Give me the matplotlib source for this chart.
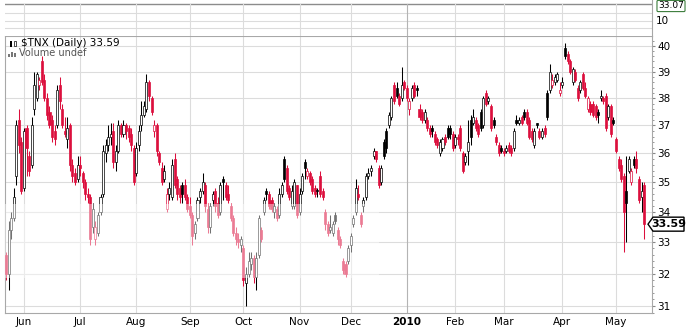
import numpy as np
import pandas as pd
import matplotlib
matplotlib.use("Agg")
import matplotlib.pyplot as plt
import matplotlib.ticker as mticker
from matplotlib.patches import Rectangle, Polygon

# trading days shown on the chart
holidays = ["2009-05-25", "2009-07-03", "2009-09-07", "2009-11-26", "2009-12-25",
            "2010-01-01", "2010-01-18", "2010-02-15", "2010-04-02"]
days = pd.bdate_range("2009-05-20", "2010-05-18")
days = days[~days.isin(pd.to_datetime(holidays))]

# $TNX daily OHLC (one line per month)
opens = [
    32.6, 32.0, 33.4, 33.8, 35.2, 37.2, 36.4,
    34.8, 36.9, 35.9, 35.6, 37.6, 38.0, 38.5, 39.4, 38.7, 38.0, 37.5, 37.2, 36.8, 37.0, 38.5, 37.6, 36.8, 36.5, 37.0, 35.6, 35.3, 35.1,
    35.6, 35.3, 35.0, 34.6, 34.5, 33.5, 33.1, 33.3, 34.0, 34.6, 36.0, 36.3, 36.6, 36.8, 35.7, 36.1, 37.0, 36.7, 37.0, 36.9, 36.7, 36.2,
    35.3, 36.3, 37.0, 37.4, 37.6, 38.6, 38.0, 36.8, 37.0, 36.0, 35.5, 35.1, 34.1, 34.6, 34.5, 35.8, 35.1, 34.8, 34.9, 34.9, 34.5,
    34.2, 33.9, 33.3, 33.8, 34.5, 34.7, 34.9, 34.1, 33.5, 34.4, 34.7, 34.3, 34.0, 35.1, 34.9, 34.6, 34.2, 33.8, 33.3, 33.1, 32.9,
    32.8, 31.7, 32.0, 32.3, 32.5, 31.9, 32.6, 33.4, 34.0, 34.7, 34.6, 34.4, 34.0, 34.1, 33.9, 34.6, 35.8, 35.5, 34.8, 34.2, 34.2, 34.9,
    34.0, 34.7, 35.7, 35.2, 35.3, 35.1, 34.8, 34.7, 35.2, 34.7, 34.0, 33.6, 33.4, 33.3, 33.9, 33.4, 33.1, 32.4, 32.3, 32.4,
    32.9, 33.6, 34.0, 34.6, 33.9, 34.2, 34.5, 35.2, 35.4, 35.9, 36.1, 35.5, 35.0, 36.4, 36.8, 37.0, 37.3, 38.5, 38.4, 38.1, 38.0, 38.6,
    38.4, 37.6, 38.0, 38.5, 38.4, 37.6, 37.5, 37.2, 37.2, 36.9, 36.9, 36.7, 36.5, 36.0, 36.2, 36.6, 36.9, 36.9, 36.7,
    36.3, 36.6, 36.9, 36.0, 35.7, 36.1, 37.2, 37.1, 37.2, 37.0, 37.5, 37.0, 38.2, 37.9, 37.7, 37.2, 36.6, 36.3, 36.2,
    36.1, 36.1, 36.3, 36.2, 36.2, 37.2, 37.1, 37.3, 37.5, 37.5, 37.2, 36.8, 36.3, 37.1, 36.8, 36.6, 36.9, 38.2, 38.3, 38.5, 38.6, 38.7, 38.2,
    38.5, 39.9, 39.7, 39.4, 38.6, 39.0, 38.4, 38.3, 38.9, 38.4, 37.6, 37.8, 37.8, 37.7, 37.5, 38.0, 38.0, 38.1, 37.3, 37.7, 37.2,
    36.5, 35.8, 35.6, 35.2, 34.7, 35.4, 35.0, 35.8, 35.8, 35.1, 34.5, 34.9,
]
highs = [
    32.7, 33.7, 34.0, 34.8, 37.2, 37.6, 36.6,
    36.9, 37.0, 36.1, 37.3, 39.0, 39.0, 38.8, 39.6, 38.9, 38.2, 37.7, 37.4, 37.0, 38.5, 38.8, 37.8, 37.3, 37.3, 37.1, 35.8, 35.5, 35.9,
    35.9, 35.4, 35.1, 34.8, 34.6, 34.3, 33.7, 34.0, 34.6, 36.3, 36.5, 37.0, 37.1, 37.1, 36.3, 37.2, 37.1, 37.2, 37.1, 37.0, 36.9, 36.3,
    36.4, 37.0, 37.9, 37.9, 38.9, 38.7, 38.1, 37.2, 37.1, 36.1, 35.7, 35.6, 34.8, 35.0, 35.8, 36.0, 35.2, 34.9, 35.0, 35.1, 34.6,
    34.5, 34.0, 33.7, 34.5, 34.8, 35.3, 35.0, 34.3, 34.3, 34.7, 34.8, 34.5, 35.0, 35.2, 35.0, 34.9, 34.3, 33.9, 33.5, 33.3, 33.2,
    32.9, 32.2, 32.7, 32.7, 32.6, 32.7, 33.9, 33.5, 34.5, 34.8, 34.7, 34.5, 34.3, 34.2, 34.8, 35.0, 35.9, 35.6, 34.9, 34.9, 35.1, 34.9,
    34.8, 35.3, 35.8, 35.5, 35.4, 35.2, 34.9, 34.8, 35.4, 34.8, 34.1, 33.7, 33.9, 33.7, 34.0, 33.5, 33.2, 32.5, 32.4, 32.9,
    33.3, 33.9, 35.1, 34.9, 34.0, 34.5, 35.3, 35.5, 35.6, 36.2, 36.1, 35.6, 35.6, 36.5, 36.9, 37.5, 38.1, 38.6, 38.6, 38.2, 39.2, 38.7,
    38.5, 38.0, 38.5, 38.6, 38.5, 37.8, 37.6, 37.6, 37.3, 37.0, 37.0, 36.8, 36.6, 36.5, 36.6, 36.7, 37.0, 37.0, 36.8,
    36.7, 36.7, 37.0, 36.1, 36.0, 37.2, 37.4, 37.6, 37.3, 37.1, 37.6, 38.1, 38.3, 38.1, 37.8, 37.3, 36.7, 36.4, 36.3,
    36.2, 36.3, 36.4, 36.3, 36.9, 37.4, 37.3, 37.4, 37.6, 37.6, 37.3, 36.9, 36.9, 37.1, 36.9, 36.9, 37.0, 38.3, 39.3, 38.9, 38.9, 39.0, 38.6,
    38.8, 40.1, 39.8, 39.5, 39.2, 39.1, 38.5, 38.7, 39.0, 38.6, 38.1, 37.9, 37.9, 37.8, 37.6, 38.3, 38.1, 38.2, 37.8, 37.8, 37.3,
    36.6, 35.9, 35.8, 35.3, 35.9, 35.9, 35.5, 35.9, 36.1, 35.2, 35.0, 35.0,
]
lows = [
    31.8, 31.5, 33.1, 33.7, 34.9, 36.0, 34.6,
    34.7, 35.2, 35.2, 35.5, 37.4, 37.9, 38.3, 38.5, 37.9, 37.2, 36.9, 36.4, 36.3, 36.9, 37.6, 36.9, 36.6, 36.2, 35.4, 35.0, 34.9, 35.0,
    35.2, 34.8, 34.4, 34.3, 32.9, 33.3, 32.9, 33.2, 33.9, 34.5, 35.7, 36.1, 36.3, 35.5, 35.4, 36.0, 36.6, 36.6, 36.5, 36.4, 36.1, 34.9,
    35.2, 36.1, 36.8, 37.3, 37.5, 37.9, 37.4, 36.6, 35.9, 35.6, 34.9, 35.0, 34.0, 34.4, 34.4, 34.8, 34.4, 34.3, 34.3, 34.4, 34.0,
    33.8, 32.9, 33.1, 33.7, 34.3, 34.6, 34.0, 33.3, 33.3, 34.2, 34.0, 33.8, 33.9, 34.4, 34.4, 34.3, 33.7, 33.2, 32.9, 32.8, 32.7,
    31.6, 31.0, 31.9, 32.1, 31.7, 31.5, 32.5, 33.0, 33.9, 34.4, 34.1, 34.0, 33.8, 33.7, 33.8, 34.5, 35.0, 34.6, 34.4, 34.1, 34.1, 33.8,
    33.9, 34.6, 35.1, 35.1, 34.9, 34.6, 34.5, 34.5, 34.5, 34.4, 33.4, 33.2, 33.3, 33.2, 33.6, 32.9, 32.8, 32.0, 31.9, 32.3,
    32.7, 33.5, 33.9, 34.4, 33.5, 34.0, 34.4, 35.1, 35.2, 35.8, 35.7, 34.8, 34.9, 35.8, 36.0, 36.9, 37.2, 37.8, 38.0, 37.7, 37.9, 38.3,
    37.9, 37.4, 37.9, 38.0, 38.1, 37.2, 37.1, 37.1, 36.8, 36.6, 36.6, 36.3, 36.2, 35.9, 36.1, 36.3, 36.5, 36.5, 36.1,
    36.2, 36.3, 36.1, 35.3, 35.6, 35.6, 36.3, 37.0, 36.8, 36.6, 36.8, 36.9, 37.7, 37.8, 36.8, 36.9, 36.3, 35.9, 36.0,
    35.9, 36.0, 36.0, 35.9, 36.1, 37.0, 37.0, 37.0, 37.2, 37.0, 36.5, 36.4, 36.2, 36.9, 36.5, 36.5, 36.6, 37.2, 38.2, 38.4, 38.5, 38.6, 38.1,
    38.4, 39.5, 39.3, 38.9, 38.5, 38.6, 37.9, 38.2, 38.3, 38.0, 37.5, 37.4, 37.3, 37.2, 37.1, 37.9, 37.8, 36.8, 37.2, 36.6, 37.0,
    36.0, 35.4, 35.0, 32.7, 33.0, 35.3, 34.9, 35.5, 35.3, 34.3, 34.0, 33.1,
]
closes = [
    32.0, 33.4, 33.8, 34.5, 37.0, 36.3, 34.7,
    36.8, 36.2, 35.4, 37.0, 38.5, 38.9, 38.7, 38.6, 38.0, 37.4, 37.0, 36.6, 36.5, 38.3, 37.9, 37.0, 36.7, 36.9, 35.6, 35.2, 35.0, 35.6,
    35.5, 35.0, 34.6, 34.5, 33.1, 34.1, 33.5, 33.9, 34.5, 36.1, 36.3, 36.6, 36.7, 35.7, 36.1, 37.0, 36.7, 37.0, 36.8, 36.6, 36.3, 35.0,
    36.2, 36.8, 37.4, 37.7, 38.6, 38.1, 37.5, 37.0, 36.1, 35.7, 35.0, 35.4, 34.6, 34.8, 35.6, 34.9, 34.6, 34.5, 34.6, 34.5, 34.1,
    33.9, 33.2, 33.6, 34.4, 34.7, 35.0, 34.2, 33.5, 34.2, 34.6, 34.2, 33.9, 34.9, 35.0, 34.5, 34.4, 33.8, 33.3, 33.1, 33.0, 33.1,
    31.8, 32.0, 32.4, 32.5, 31.9, 32.5, 33.8, 33.1, 34.4, 34.6, 34.2, 34.1, 34.2, 33.8, 34.6, 34.9, 35.1, 34.7, 34.5, 34.7, 35.0, 33.9,
    34.6, 35.2, 35.5, 35.4, 35.0, 34.7, 34.6, 34.7, 34.6, 34.5, 33.6, 33.3, 33.5, 33.6, 33.7, 33.1, 32.9, 32.1, 32.0, 32.8,
    33.2, 33.8, 34.8, 34.5, 33.6, 34.4, 35.2, 35.3, 35.5, 36.1, 35.8, 34.9, 35.5, 35.9, 36.2, 37.4, 38.0, 37.9, 38.1, 37.8, 38.5, 38.4,
    38.0, 37.9, 38.4, 38.1, 38.3, 37.3, 37.2, 37.5, 36.9, 36.7, 36.8, 36.4, 36.3, 36.4, 36.5, 36.4, 36.6, 36.7, 36.2,
    36.6, 36.5, 36.2, 35.4, 35.9, 36.4, 36.6, 37.3, 36.9, 36.7, 36.9, 38.0, 37.8, 38.0, 36.9, 37.0, 36.4, 36.0, 36.1,
    36.0, 36.2, 36.1, 36.0, 36.8, 37.1, 37.2, 37.1, 37.3, 37.1, 36.6, 36.5, 36.8, 37.0, 36.6, 36.8, 36.7, 37.3, 39.0, 38.7, 38.8, 38.9, 38.3,
    38.6, 39.6, 39.4, 39.0, 39.1, 38.7, 38.0, 38.6, 38.4, 38.1, 38.0, 37.5, 37.4, 37.3, 37.4, 38.1, 37.9, 36.9, 37.7, 36.7, 37.1,
    36.1, 35.5, 35.1, 34.0, 34.3, 35.8, 35.4, 35.6, 35.5, 34.4, 34.7, 33.59,
]
last_value = "33.59"
upper_label = "33.07"
price_ticks = list(range(31, 41))

assert len(opens) == len(highs) == len(lows) == len(closes) == len(days)

n = len(days)
x = np.arange(n)
o = np.array(opens)
h = np.array(highs)
l = np.array(lows)
c = np.array(closes)
prev = np.r_[o[0], c[:-1]]
red = "#dc0f3d"
colors = np.where(c >= prev, "black", red)
hollow = c > o

W, H = 689, 330
fig = plt.figure(figsize=(W / 100, H / 100), dpi=100)
ax = fig.add_axes([5 / W, 17 / H, 647 / W, 277 / H])
ax.set_yscale("log")
ax.set_xlim(-0.43, 253.1)
ax.set_ylim(30.79, 40.39)

grid_c = "#dcdcdc"
for v in price_ticks:
    ax.axhline(v, color=grid_c, lw=0.8, zorder=0)

month_idx = [i for i in range(1, n) if days[i].month != days[i - 1].month]
for i in month_idx:
    ax.axvline(i, color="#b4b4b4" if days[i].month == 1 else grid_c, lw=0.8, zorder=0)

# candles
ax.vlines(x, l, h, colors=colors, lw=0.75, zorder=2)
for i in range(n):
    lo, hi = min(o[i], c[i]), max(o[i], c[i])
    fc = "white" if hollow[i] else colors[i]
    ax.add_patch(Rectangle((i - 0.4, lo), 0.8, max(hi - lo, 0.02),
                           fc=fc, ec=colors[i], lw=0.5, zorder=3))

# faint white wash over the lower left of the price area
ax.add_patch(Rectangle((-1, 31.85), 147, 2.4, fc="white", ec="none", alpha=0.45, zorder=4))

for side in ["left", "top", "bottom", "right"]:
    ax.spines[side].set_color("#a8a8a8")
    ax.spines[side].set_linewidth(0.8)

ax.yaxis.tick_right()
ax.set_yticks(price_ticks)
ax.set_yticklabels([str(v) for v in price_ticks], fontsize=7.5)
ax.yaxis.set_minor_locator(mticker.FixedLocator(np.arange(30.8, 40.4, 0.2)))
ax.yaxis.set_minor_formatter(mticker.NullFormatter())
ax.tick_params(axis="y", which="major", length=2.5, pad=1.5, color="#888888")
ax.tick_params(axis="y", which="minor", length=1.5, color="#888888")

labels = ["2010" if days[i].month == 1 else days[i].strftime("%b") for i in month_idx]
ax.set_xticks(month_idx)
ax.set_xticklabels(labels, fontsize=7.5)
ax.tick_params(axis="x", length=0, pad=3)
for t in ax.get_xticklabels():
    if t.get_text() == "2010":
        t.set_fontweight("bold")

# legend text
fig.text(21 / W, 1 - 43.5 / H, r"\$TNX (Daily) 33.59", fontsize=7.5, va="center", color="black")
fig.text(19 / W, 1 - 53.5 / H, "Volume undef", fontsize=7, va="center", color="#555555")
for k, hh in enumerate([3, 5, 4]):
    fig.add_artist(Rectangle(((8 + 3 * k) / W, (H - 57) / H), 2 / W, hh / H,
                             transform=fig.transFigure, fc="#777777", ec="none"))
fig.add_artist(Rectangle((10 / W, (H - 47) / H), 2 / W, 6 / H, transform=fig.transFigure,
                         fc="black", ec="none"))
fig.add_artist(Rectangle((14 / W, (H - 46) / H), 2 / W, 5 / H, transform=fig.transFigure,
                         fc="white", ec="black", lw=0.5))

# last value tag
yc = ax.transData.transform((0, c[-1]))[1] / H
pts = [(648 / W, yc), (653 / W, yc + 7 / H), (684 / W, yc + 7 / H),
       (684 / W, yc - 7 / H), (653 / W, yc - 7 / H)]
fig.add_artist(Polygon(pts, closed=True, transform=fig.transFigure,
                       fc="white", ec="black", lw=1))
fig.text(668.5 / W, yc, last_value, ha="center", va="center", fontsize=8, fontweight="bold")

# cropped indicator panel above
top = fig.add_axes([5 / W, (H - 36) / H, 647 / W, 36 / H], sharex=ax)
top.set_ylim(36, 0)
top.axhline(4, color="#8c8c8c", lw=1)
for yy in [13, 21, 28]:
    top.axhline(yy, color=grid_c, lw=0.8)
for i in month_idx:
    top.axvline(i, ymin=0, ymax=32 / 36, color="#b4b4b4" if days[i].month == 1 else grid_c, lw=0.8)
for side in ["left", "top", "bottom"]:
    top.spines[side].set_visible(False)
top.spines["right"].set_color("#a8a8a8")
top.set_yticks([])
top.tick_params(axis="x", length=0, labelbottom=False)
fig.text(656 / W, 1 - 21 / H, "10", fontsize=7.5, va="center")
fig.text(671 / W, 1 - 6 / H, upper_label, fontsize=6.5, ha="center", va="center",
         bbox=dict(boxstyle="round,pad=0.12", fc="white", ec="#3c7d3c", lw=0.8))

fig.savefig("out.png", dpi=100)
